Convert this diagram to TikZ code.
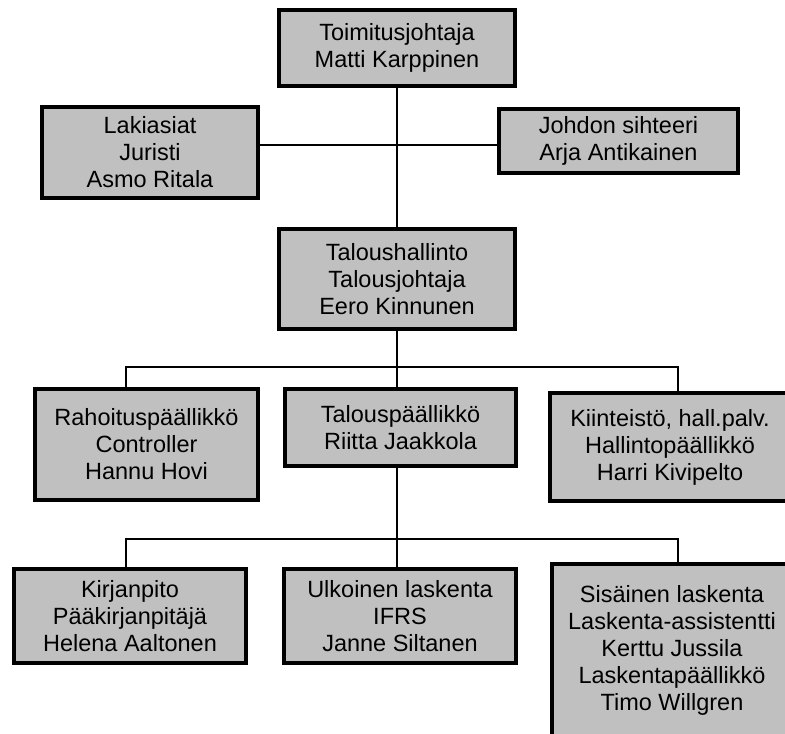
\documentclass[tikz,border=0pt]{standalone}
\usepackage{fontspec}
\setmainfont{Liberation Sans}
\usetikzlibrary{calc}
\definecolor{boxgray}{HTML}{C0C0C0}
\tikzset{unit/.style={draw=black,line width=4pt,fill=boxgray,align=center,
  inner sep=0pt,minimum width=#1},unit/.default=232pt}
\tikzset{link/.style={color=#1,line width=2.4pt},link/.default=black}

\begin{document}
\begin{tikzpicture}[x=1pt,y=-1pt,font=\fontsize{23.5}{27}\selectfont]

	\useasboundingbox (0,0) rectangle (785,734);

	% Johto
	\node [unit=236pt,minimum height=76pt] (toim) at (397,48)
		{Toimitusjohtaja\\Matti Karppinen};
	\node [unit=216pt,minimum height=91pt] (laki) at (150,152.5)
		{Lakiasiat\\Juristi\\Asmo Ritala};
	\node [unit=239pt,minimum height=64pt] (sihteeri) at (618.5,141)
		{Johdon sihteeri\\Arja Antikainen};
	\node [unit=236pt,minimum height=100pt] (talous) at (397,279)
		{Taloushallinto\\Talousjohtaja\\Eero Kinnunen};

	% Toinen taso
	\node [unit=223pt,minimum height=111pt] (rahoitus) at (146.5,444.5)
		{Rahoituspäällikkö\\Controller\\Hannu Hovi};
	\node [unit=231pt,minimum height=77pt] (taloup) at (400.5,427.5)
		{Talouspäällikkö\\Riitta Jaakkola};
	\node [unit=240pt,minimum height=108pt] (kiint) at (670,447)
		{Kiinteistö, hall.palv.\\Hallintopäällikkö\\Harri Kivipelto};

	% Kolmas taso
	\node [unit,minimum height=94pt] (kirjan) at (130,616)
		{Kirjanpito\\Pääkirjanpitäjä\\Helena Aaltonen};
	\node [unit,minimum height=94pt] (ulko) at (400,616)
		{Ulkoinen laskenta\\IFRS\\Janne Siltanen};
	\node [unit=240pt,minimum height=172pt] (sisa) at (672,650)
		{Sisäinen laskenta\\Laskenta-assistentti\\Kerttu Jussila\\Laskentapäällikkö\\Timo Willgren};

	% Apupisteet
	\coordinate (staff) at (397,145);
	\coordinate (bus1)  at (397,367);
	\coordinate (left1) at (126,367);
	\coordinate (right1) at (678,367);
	\coordinate (bus2)  at (397,539);
	\coordinate (left2) at (126,539);
	\coordinate (right2) at (678,539);

	% Yhteydet ylhäällä
	\draw [link] (toim) -- (talous);
	\draw [link] (laki.east |- staff) -- (sihteeri.west |- staff);

	% Yhteydet talousjohtajalta
	\draw [link] (talous) -- (bus1);
	\draw [link] (rahoitus.north -| left1) -- (left1) -- (right1)
		-- (kiint.north -| right1);
	\draw [link] (bus1) -- (bus1 |- taloup.north);

	% Yhteydet talouspäälliköltä
	\draw [link] (taloup.south -| bus2) -- (bus2);
	\draw [link] (kirjan.north -| left2) -- (left2) -- (right2)
		-- (sisa.north -| right2);
	\draw [link] (bus2) -- (bus2 |- ulko.north);

\end{tikzpicture}
\end{document}
